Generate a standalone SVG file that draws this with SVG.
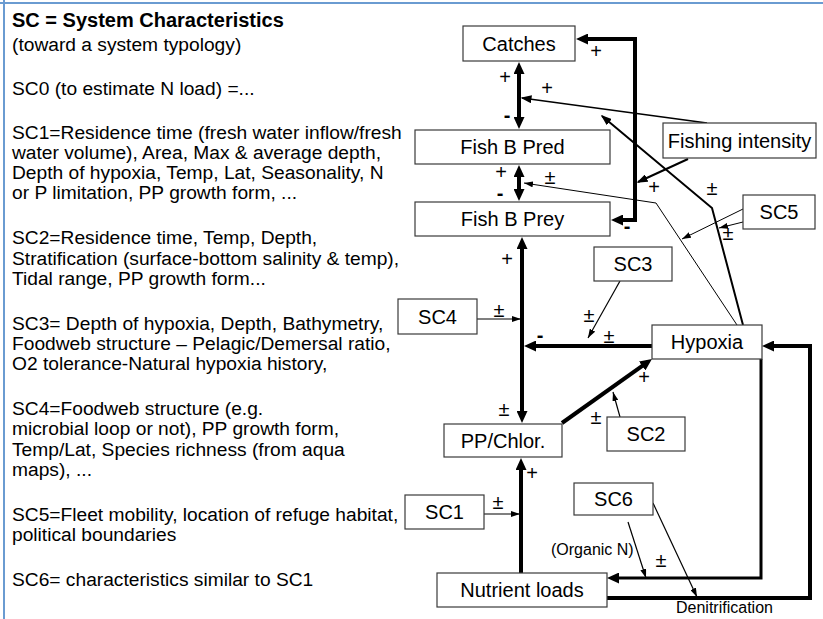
<svg xmlns="http://www.w3.org/2000/svg" width="823" height="619" viewBox="0 0 823 619">
<style>
.body{font-family:"Liberation Sans",Arial,sans-serif;font-size:19.2px;fill:#000}
.title{font-family:"Liberation Sans",Arial,sans-serif;font-size:20px;font-weight:bold;fill:#000}
.node rect{fill:#fff;stroke:#3a3a3a;stroke-width:1.2}
.node text{font-family:"Liberation Sans",Arial,sans-serif;font-size:20px;fill:#000;text-anchor:middle}
.lbl{font-family:"Liberation Sans",Arial,sans-serif;font-size:20px;fill:#000;text-anchor:middle}
.dash{font-weight:bold}
.small{font-family:"Liberation Sans",Arial,sans-serif;font-size:16px;fill:#000}
.thick{fill:none;stroke:#000;stroke-width:4;stroke-linejoin:miter}
.mid{fill:none;stroke:#000;stroke-width:2}
.thin{fill:none;stroke:#000;stroke-width:1.2}
</style>
<defs>
<marker id="ah" markerUnits="userSpaceOnUse" markerWidth="12" markerHeight="11" refX="7" refY="5.5" orient="auto-start-reverse">
<path d="M0,0 L12,5.5 L0,11 z" fill="#000"/>
</marker>
<marker id="am" markerUnits="userSpaceOnUse" markerWidth="11" markerHeight="8" refX="9.5" refY="4" orient="auto-start-reverse">
<path d="M0,0 L11,4 L0,8 z" fill="#000"/>
</marker>
<marker id="as" markerUnits="userSpaceOnUse" markerWidth="9" markerHeight="6" refX="9" refY="3" orient="auto-start-reverse">
<path d="M0,0 L9,3 L0,6 z" fill="#000"/>
</marker>
</defs>
<rect x="0" y="0" width="823" height="619" fill="#fff"/>
<g id="frame">
<line x1="0" y1="3" x2="823" y2="3" stroke="#6a9bd1" stroke-width="2"/>
<line x1="4" y1="0" x2="4" y2="619" stroke="#6a9bd1" stroke-width="2"/>
</g>
<g id="legend">
<text class="title" x="12" y="27">SC = System Characteristics</text>
<text class="body" x="12" y="50.5">(toward a system typology)</text>
<text class="body" x="12" y="94.5">SC0 (to estimate N load) =...</text>
<text class="body" x="12" y="138.5">SC1=Residence time (fresh water inflow/fresh</text>
<text class="body" x="12" y="158.8">water volume), Area, Max &amp; average depth,</text>
<text class="body" x="12" y="179.1">Depth of hypoxia, Temp, Lat, Seasonality, N</text>
<text class="body" x="12" y="199.4">or P limitation, PP growth form, ...</text>
<text class="body" x="12" y="244.2">SC2=Residence time, Temp, Depth,</text>
<text class="body" x="12" y="264.5">Stratification (surface-bottom salinity &amp; temp),</text>
<text class="body" x="12" y="284.8">Tidal range, PP growth form...</text>
<text class="body" x="12" y="329.6">SC3= Depth of hypoxia, Depth, Bathymetry,</text>
<text class="body" x="12" y="349.9">Foodweb structure – Pelagic/Demersal ratio,</text>
<text class="body" x="12" y="370.2">O2 tolerance-Natural hypoxia history,</text>
<text class="body" x="12" y="415">SC4=Foodweb structure (e.g.</text>
<text class="body" x="12" y="435.3">microbial loop or not), PP growth form,</text>
<text class="body" x="12" y="455.6">Temp/Lat, Species richness (from aqua</text>
<text class="body" x="12" y="475.9">maps), ...</text>
<text class="body" x="12" y="520.7">SC5=Fleet mobility, location of refuge habitat,</text>
<text class="body" x="12" y="541">political boundaries</text>
<text class="body" x="12" y="585.8">SC6= characteristics similar to SC1</text>
</g>
<g id="connectors">
<path class="thick" d="M519,67 L519,124" marker-start="url(#ah)" marker-end="url(#ah)"/>
<path class="thick" d="M519,170 L519,196" marker-start="url(#ah)" marker-end="url(#ah)"/>
<path class="thick" d="M522,242 L522,418" marker-start="url(#ah)" marker-end="url(#ah)"/>
<path class="thick" d="M521,573 L521,463" marker-end="url(#ah)"/>
<path class="thick" d="M652,346 L529,346" marker-end="url(#ah)"/>
<path class="thick" d="M562,423 L647.9,361.9" marker-end="url(#ah)"/>
<path class="thick" d="M616,220 L635,220 L635,39 L581,39" marker-start="url(#ah)" marker-end="url(#ah)"/>
<path class="mid" d="M688,159 L638,182" marker-end="url(#am)"/>
<path class="mid" style="stroke-width:1.6" d="M707,123 L522,98" marker-end="url(#am)"/>
<path class="mid" d="M743,325 L712,208 L602,116" marker-end="url(#am)"/>
<path class="thin" style="stroke-width:1" d="M737,325 L656,203 L524,183" marker-end="url(#as)"/>
<path class="thin" style="stroke-width:1" d="M743,209 L682,239" marker-end="url(#as)"/>
<path class="thin" style="stroke-width:1" d="M743,222 L719,228" marker-end="url(#as)"/>
<path class="thin" d="M620,281 L588,338" marker-end="url(#as)"/>
<path class="thin" d="M477,319 L521,319" marker-end="url(#as)"/>
<path class="thin" d="M484,514 L520,514" marker-end="url(#as)"/>
<path class="thin" d="M620,417 L613,392" marker-end="url(#as)"/>
<path class="thin" d="M628,522 L646,578" marker-end="url(#as)"/>
<path class="thin" d="M653,503 L697,597" marker-end="url(#as)"/>
<path class="thick" style="stroke-width:3" d="M761,359 L761,578 L612,578" marker-end="url(#ah)"/>
<path class="thick" d="M607,598 L810,598 L810,346 L767,346" marker-end="url(#ah)"/>
</g>
<g id="labels">
<text class="lbl" x="596" y="58">+</text>
<text class="lbl" x="505" y="84">+</text>
<text class="lbl" x="547" y="95">+</text>
<text class="lbl dash" x="507" y="122">-</text>
<text class="lbl" x="501" y="179">+</text>
<text class="lbl dash" x="500" y="200">-</text>
<text class="lbl" x="550" y="184">±</text>
<text class="lbl" x="654" y="194">+</text>
<text class="lbl" x="712" y="195">±</text>
<text class="lbl dash" x="627" y="233">-</text>
<text class="lbl" x="728" y="240">±</text>
<text class="lbl" x="507" y="266">+</text>
<text class="lbl" x="499" y="317">±</text>
<text class="lbl" x="589" y="322">±</text>
<text class="lbl dash" x="540" y="342">-</text>
<text class="lbl" x="609" y="343">±</text>
<text class="lbl" x="644" y="384">+</text>
<text class="lbl" x="504" y="416">±</text>
<text class="lbl" x="596" y="424">±</text>
<text class="lbl" x="532" y="480">+</text>
<text class="lbl" x="498" y="509">±</text>
<text class="lbl" x="661" y="567">±</text>
<text class="small" x="551" y="555">(Organic N)</text>
<text class="small" x="676" y="613">Denitrification</text>
</g>
<g id="catches" class="node"><rect x="463" y="26" width="112" height="35"/><text x="519" y="50.5">Catches</text></g>
<g id="fishbpred" class="node"><rect x="415" y="130" width="195" height="34"/><text x="512.5" y="154">Fish B Pred</text></g>
<g id="fishbprey" class="node"><rect x="415" y="202" width="195" height="34"/><text x="512.5" y="226">Fish B Prey</text></g>
<g id="fishing" class="node"><rect x="663" y="123" width="153" height="35"/><text x="739.5" y="147.5">Fishing intensity</text></g>
<g id="sc5" class="node"><rect x="743" y="195" width="72" height="34"/><text x="779" y="219">SC5</text></g>
<g id="sc3" class="node"><rect x="594" y="247" width="78" height="34"/><text x="633" y="271">SC3</text></g>
<g id="sc4" class="node"><rect x="398" y="299" width="79" height="35"/><text x="437.5" y="323.5">SC4</text></g>
<g id="hypoxia" class="node"><rect x="652" y="325" width="110" height="34"/><text x="707" y="349">Hypoxia</text></g>
<g id="ppchlor" class="node"><rect x="444" y="424" width="118" height="33"/><text x="503" y="447.5">PP/Chlor.</text></g>
<g id="sc2" class="node"><rect x="607" y="417" width="78" height="34"/><text x="646" y="441">SC2</text></g>
<g id="sc1" class="node"><rect x="405" y="495" width="79" height="34"/><text x="444.5" y="519">SC1</text></g>
<g id="sc6" class="node"><rect x="574" y="483" width="79" height="32"/><text x="613.5" y="506">SC6</text></g>
<g id="nutrient" class="node"><rect x="437" y="573" width="170" height="34"/><text x="522" y="597">Nutrient loads</text></g>
</svg>
